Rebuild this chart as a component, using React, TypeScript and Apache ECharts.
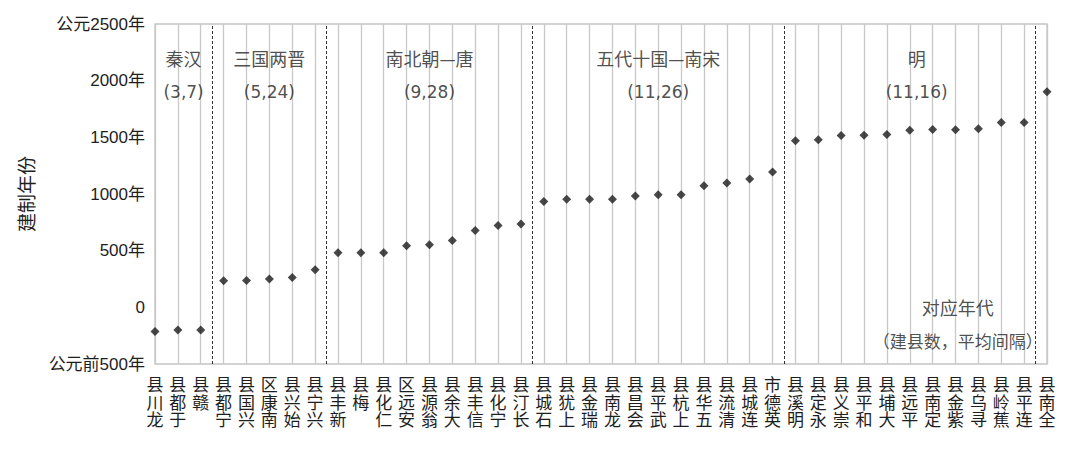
import React, { useEffect, useRef } from "react";
import * as echarts from "echarts";

const counties = [
  "龙川县", "于都县", "赣县",
  "宁都县", "兴国县", "南康区", "始兴县", "兴宁县",
  "新丰县", "梅县", "仁化县", "安远区", "翁源县", "大余县", "信丰县", "宁化县", "长汀县",
  "石城县", "上犹县", "瑞金县", "龙南县", "会昌县", "武平县", "上杭县", "五华县", "清流县", "连城县", "英德市",
  "明溪县", "永定县", "崇义县", "和平县", "大埔县", "平远县", "定南县", "紫金县", "寻乌县", "蕉岭县", "连平县",
  "全南县",
];
const years = [
  -214, -201, -201,
  235, 236, 251, 263, 331,
  482, 482, 482, 544, 553, 590, 678, 723, 736,
  933, 953, 953, 953, 982, 993, 994, 1073, 1097, 1133, 1195,
  1469, 1478, 1517, 1518, 1524, 1562, 1569, 1568, 1575, 1630, 1631,
  1903,
];
const separators = [2.5, 7.5, 16.5, 27.5, 38.5];
const periodNames = ["秦汉", "三国两晋", "南北朝—唐", "五代十国—南宋", "明"];
const periodStats = ["(3,7)", "(5,24)", "(9,28)", "(11,26)", "(11,16)"];
const periodCenters = [1.25, 5, 12, 22, 33.3];
const periodNameY = 2200;
const periodStatY = 1900;
const noteLines = ["对应年代", "（建县数，平均间隔）"];
const noteX = 35.1;
const noteY = [0, -290];
const yTickLabels: Record<string, string> = {
  "-500": "公元前500年",
  "0": "0",
  "500": "500年",
  "1000": "1000年",
  "1500": "1500年",
  "2000": "2000年",
  "2500": "公元2500年",
};

const CJK = "'Noto Sans CJK SC', 'Noto Sans', sans-serif";
const LATIN = "'Liberation Sans', 'Noto Sans CJK SC', sans-serif";

export default function App() {
  const ref = useRef<HTMLDivElement>(null);
  useEffect(() => {
    if (!ref.current) return;
    const chart = echarts.init(ref.current, null, { renderer: "svg" });
    const textData: any[] = [];
    periodNames.forEach((n, i) => {
      textData.push({
        name: n,
        value: [periodCenters[i], periodNameY],
        label: { fontSize: 18, fontFamily: CJK },
      });
      textData.push({
        name: periodStats[i],
        value: [periodCenters[i], periodStatY],
        label: { fontSize: 17, fontFamily: "'DejaVu Sans', sans-serif" },
      });
    });
    noteLines.forEach((n, i) => {
      textData.push({
        name: n,
        value: [noteX, noteY[i]],
        label: { fontSize: i === 0 ? 18 : 17, fontFamily: CJK },
      });
    });
    chart.setOption({
      animation: false,
      backgroundColor: "#ffffff",
      grid: {
        left: 155,
        right: 33,
        top: 24,
        bottom: 100,
        show: true,
        borderColor: "#c4c4c4",
        borderWidth: 1.3,
        containLabel: false,
      },
      xAxis: {
        type: "value",
        min: 0,
        max: counties.length - 1,
        interval: 1,
        axisLine: { show: false },
        axisTick: { show: false },
        splitLine: { show: true, lineStyle: { color: "#c8c8c8", width: 1.3 } },
        axisLabel: {
          margin: 13,
          fontSize: 17,
          lineHeight: 17.4,
          color: "#1e1e1e",
          fontFamily: LATIN,
          verticalAlign: "top",
          formatter: (v: number) => {
            const name = counties[Math.round(v)];
            return name ? name.split("").reverse().join("\n") : "";
          },
        },
      },
      yAxis: {
        type: "value",
        min: -500,
        max: 2500,
        interval: 500,
        axisLine: { show: false },
        axisTick: { show: false },
        splitLine: { show: false },
        axisLabel: {
          margin: 10,
          fontSize: 17,
          color: "#1e1e1e",
          fontFamily: LATIN,
          formatter: (v: number) => yTickLabels[String(v)] ?? String(v),
        },
        name: "建制年份",
        nameLocation: "middle",
        nameRotate: 90,
        nameGap: 120,
        nameTextStyle: { fontSize: 19, color: "#1e1e1e", fontFamily: CJK },
      },
      series: [
        {
          type: "scatter",
          data: years.map((y, i) => [i, y]),
          symbol: "diamond",
          symbolSize: 9,
          itemStyle: { color: "#1a1a1a" },
          silent: true,
          markLine: {
            silent: true,
            symbol: "none",
            label: { show: false },
            lineStyle: { type: [3, 2], color: "#333", width: 1 },
            data: separators.map((x) => ({ xAxis: x })),
          },
        },
        {
          type: "scatter",
          data: textData,
          symbolSize: 0,
          silent: true,
          label: {
            show: true,
            position: "inside",
            formatter: "{b}",
            color: "#222",
          },
        },
      ],
    });
    return () => chart.dispose();
  }, []);
  return (
    <div
      ref={ref}
      style={{ position: "absolute", left: 0, top: 0, width: 1080, height: 464 }}
    />
  );
}
